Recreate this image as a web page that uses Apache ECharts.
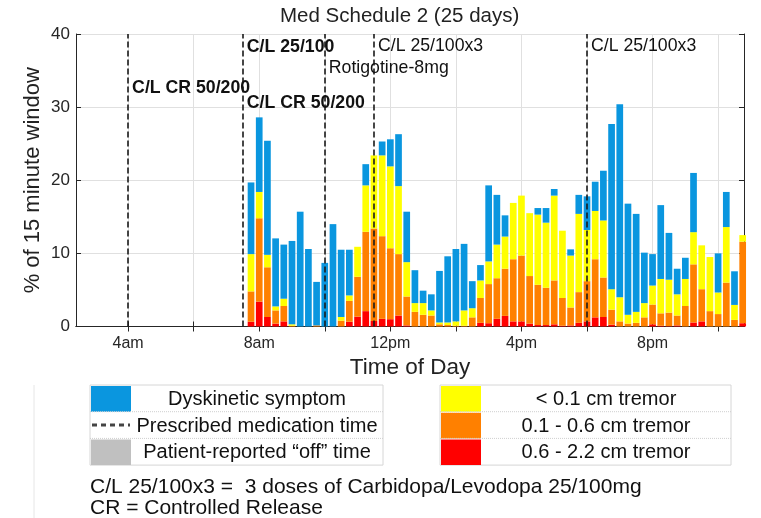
<!DOCTYPE html>
<html>
<head>
<meta charset="utf-8">
<title>Med Schedule 2 (25 days)</title>
<script src="https://cdn.jsdelivr.net/npm/echarts@6/dist/echarts.min.js"></script>
<style>
  html, body { margin: 0; padding: 0; background: #fff; }
  #chart { width: 761px; height: 518px; }
</style>
</head>
<body>
<div id="chart"></div>
<script>
// 15-minute windows (bar centre times)
const slots = [
  '7:45', '8:00', '8:15', '8:30', '8:45', '9:00', '9:15', '9:30', '9:45', '10:00',
  '10:15', '10:30', '10:45', '11:00', '11:15', '11:30', '11:45', '12:00', '12:15', '12:30',
  '12:45', '13:00', '13:15', '13:30', '13:45', '14:00', '14:15', '14:30', '14:45', '15:00',
  '15:15', '15:30', '15:45', '16:00', '16:15', '16:30', '16:45', '17:00', '17:15', '17:30',
  '17:45', '18:00', '18:15', '18:30', '18:45', '19:00', '19:15', '19:30', '19:45', '20:00',
  '20:15', '20:30', '20:45', '21:00', '21:15', '21:30', '21:45', '22:00', '22:15', '22:30',
  '22:45'
];

// % of window, stacked bottom to top
const tremorHigh = [ // 0.6 - 2.2 cm
  0.65, 3.4, 1.3, 0.4, 0.7, 0, 0, 0, 0, 0,
  0, 0, 0.65, 1.35, 2.1, 0.75, 1.05, 1.0, 1.5, 0.15,
  0, 0, 0, 0, 0, 0, 0, 0, 0.5, 0.45,
  1.05, 1.45, 0.7, 0.7, 0.4, 0.2, 0.2, 0.3, 0.1, 0.15,
  0.5, 0.7, 1.25, 1.3, 0.25, 0, 0, 0, 0, 0.3,
  0.1, 0.05, 0.15, 0, 0.55, 0.7, 0, 0, 0, 0,
  0.45
];
const tremorMid = [ // 0.1 - 0.6 cm
  4.15, 11.4, 6.8, 1.8, 2.1, 0.1, 0, 0, 0.15, 0,
  0, 0.8, 2.85, 5.45, 10.85, 12.65, 11.3, 9.7, 8.4, 3.95,
  2.0, 1.6, 1.5, 0.3, 0.2, 0.1, 0.1, 1.25, 3.4, 5.35,
  5.55, 6.45, 8.5, 9.0, 6.5, 5.5, 5.1, 6.0, 3.8, 2.45,
  4.2, 5.5, 7.95, 5.4, 2.05, 0.7, 0.4, 0.5, 1.25, 2.7,
  1.7, 1.85, 1.35, 2.8, 7.95, 4.4, 2.1, 1.7, 6.0, 0.9,
  11.15
];
const tremorLow = [ // < 0.1 cm
  5.1, 3.6, 1.7, 0.55, 1.0, 0.2, 0, 0, 0, 0,
  0, 0.5, 0.75, 4.1, 6.35, 10.0, 11.05, 11.2, 9.3, 4.7,
  1.2, 1.6, 0.7, 0.25, 0.35, 0.6, 2.1, 1.25, 2.4, 3.1,
  4.6, 4.4, 7.7, 8.2, 8.6, 9.6, 8.9, 11.6, 9.2, 7.1,
  10.7, 7.0, 6.6, 7.8, 2.8, 3.3, 1.2, 1.5, 1.95, 2.6,
  4.7, 4.5, 2.9, 3.7, 4.4, 6.0, 7.4, 2.95, 7.6, 2.05,
  0.9
];
const dyskinesia = [
  9.8, 10.2, 15.6, 9.3, 7.4, 11.4, 15.7, 10.6, 5.95, 8.7,
  14.0, 9.2, 6.25, 0, 2.9, 0, 1.9, 3.7, 7.1, 6.9,
  4.5, 1.7, 2.2, 7.05, 9.05, 9.9, 9.1, 3.7, 2.1, 10.4,
  6.8, 2.9, 0, 0, 0, 0.9, 2.0, 0.9, 0, 0.85,
  2.6, 4.6, 4.0, 6.8, 22.6, 26.4, 15.2, 13.4, 6.9, 4.3,
  10.1, 6.4, 3.5, 2.9, 8.1, 0, 0, 5.35, 4.8, 4.6,
  0
];

// prescribed medication times (hour of day) and their notes
const medTimes = [4, 7.5, 10, 11.5, 18];
const notes = [
  { at: 4, y: 32.6, text: 'C/L CR 50/200', bold: true },
  { at: 7.5, y: 38.2, text: 'C/L 25/100', bold: true },
  { at: 7.5, y: 30.5, text: 'C/L CR 50/200', bold: true },
  { at: 10, y: 35.3, text: 'Rotigotine-8mg', bold: false },
  { at: 11.5, y: 38.4, text: 'C/L 25/100x3', bold: false },
  { at: 18, y: 38.4, text: 'C/L 25/100x3', bold: false }
];

const xTicks = [4, 6, 8, 10, 12, 14, 16, 18, 20, 22];
const xLabels = { 4: '4am', 8: '8am', 12: '12pm', 16: '4pm', 20: '8pm' };

const FONT = '"Liberation Sans", Arial, Helvetica, sans-serif';
const BLUE = '#0a96df', YELLOW = '#ffff00', ORANGE = '#ff8000', RED = '#ff0000';

const toHour = t => {
  const [h, m] = t.split(':').map(Number);
  return h + m / 60;
};
const xs = slots.map(toHour);
// value first so the stack runs on the y dimension
const pairs = arr => xs.map((x, i) => [arr[i], x]);

const barSeries = (name, data, color) => ({
  name: name,
  type: 'bar',
  stack: 'win',
  barWidth: 6.7,
  encode: { x: 1, y: 0 },
  data: pairs(data),
  itemStyle: { color: color },
  z: 2
});

// 图例框
function legendBox(x0, x1, items) {
  const top = 385, rowH = 26.7, swW = 41;
  const els = [{
    type: 'rect',
    shape: { x: x0, y: top, width: x1 - x0, height: rowH * 3 },
    style: { fill: '#fff', stroke: '#d6d6d6', lineWidth: 1 }
  }];
  items.forEach((it, i) => {
    const y = top + i * rowH;
    if (i > 0) {
      els.push({
        type: 'line',
        shape: { x1: x0, y1: y, x2: x1, y2: y },
        style: { stroke: '#cfcfcf', lineWidth: 1, lineDash: [1, 1] }
      });
    }
    if (it.dash) {
      els.push({
        type: 'line',
        shape: { x1: x0 + 2, y1: y + rowH / 2, x2: x0 + swW - 1, y2: y + rowH / 2 },
        style: { stroke: '#444', lineWidth: 3, lineDash: [5, 4] }
      });
    } else {
      els.push({
        type: 'rect',
        shape: { x: x0 + 1, y: y + 1, width: swW - 1, height: rowH - 1 },
        style: { fill: it.color }
      });
    }
    els.push({
      type: 'text',
      style: {
        text: it.name, x: (x0 + swW + x1) / 2, y: y + rowH / 2 + 1,
        align: 'center', verticalAlign: 'middle',
        font: '20px ' + FONT, fill: '#111'
      }
    });
  });
  return els;
}

const chart = echarts.init(document.getElementById('chart'));

const X_MIN = 2.41, X_MAX = 22.79;
const boxAxis = {
  axisLine: { show: true, lineStyle: { color: '#262626', width: 1 } },
  axisTick: { show: true, inside: true, length: 5, lineStyle: { color: '#262626' } },
  splitLine: { show: false }
};

chart.setOption({
  animation: false,
  backgroundColor: '#fff',
  title: {
    text: 'Med Schedule 2 (25 days)',
    left: 280, top: 6, padding: 0,
    textStyle: { fontFamily: FONT, fontSize: 20.5, fontWeight: 'normal', color: '#222' }
  },
  grid: { left: 76, right: 17, top: 34, bottom: 191.5 },
  xAxis: [{
    type: 'value', min: X_MIN, max: X_MAX, position: 'bottom',
    name: 'Time of Day', nameLocation: 'middle', nameGap: 30,
    nameTextStyle: { fontFamily: FONT, fontSize: 22.5, color: '#222' },
    axisLine: { show: true, lineStyle: { color: '#262626', width: 1 } },
    axisTick: { show: true, inside: true, length: 5, customValues: xTicks, lineStyle: { color: '#262626' } },
    axisLabel: {
      customValues: Object.keys(xLabels).map(Number),
      formatter: v => xLabels[v] || '',
      margin: 9, fontFamily: FONT, fontSize: 16, color: '#262626'
    },
    splitLine: { show: true, lineStyle: { color: '#e0e0e0', width: 1 } }
  }, Object.assign({
    type: 'value', min: X_MIN, max: X_MAX, position: 'top',
    axisLabel: { show: false }
  }, boxAxis, {
    axisTick: { show: true, inside: true, length: 5, customValues: xTicks, lineStyle: { color: '#262626' } }
  })],
  yAxis: [{
    type: 'value', min: 0, max: 40, interval: 10, position: 'left',
    name: '% of 15 minute window', nameLocation: 'middle', nameGap: 32,
    nameMoveOverlap: false,
    nameTextStyle: { fontFamily: FONT, fontSize: 22, color: '#222' },
    axisLine: { show: true, lineStyle: { color: '#262626', width: 1 } },
    axisTick: { show: true, inside: true, length: 5, lineStyle: { color: '#262626' } },
    axisLabel: { margin: 6, fontFamily: FONT, fontSize: 17, color: '#262626' },
    splitLine: { show: true, lineStyle: { color: '#e0e0e0', width: 1 } }
  }, Object.assign({
    type: 'value', min: 0, max: 40, interval: 10, position: 'right',
    axisLabel: { show: false }
  }, boxAxis)],
  series: [
    barSeries('0.6 - 2.2 cm tremor', tremorHigh, RED),
    barSeries('0.1 - 0.6 cm tremor', tremorMid, ORANGE),
    barSeries('< 0.1 cm tremor', tremorLow, YELLOW),
    barSeries('Dyskinetic symptom', dyskinesia, BLUE),
    {
      name: 'Prescribed medication time',
      type: 'scatter',
      symbolSize: 0,
      z: 5,
      itemStyle: { opacity: 1 },
      data: notes.map(n => ({
        value: [n.at, n.y],
        label: { formatter: n.text, fontWeight: n.bold ? 'bold' : 'normal' }
      })),
      label: {
        show: true, position: 'right', distance: 4,
        fontFamily: FONT, fontSize: 17.7, color: '#111'
      },
      markLine: {
        silent: true,
        symbol: ['none', 'none'],
        label: { show: false },
        lineStyle: { type: [6, 3], color: '#1a1a1a', width: 1.6, opacity: 1 },
        data: medTimes.map(t => ({ xAxis: t }))
      }
    }
  ],
  graphic: [].concat(
    legendBox(90, 383, [
      { name: 'Dyskinetic symptom', color: BLUE },
      { name: 'Prescribed medication time', dash: true },
      { name: 'Patient-reported \u201coff\u201d time', color: '#c0c0c0' }
    ]),
    legendBox(440, 731, [
      { name: '< 0.1 cm tremor', color: YELLOW },
      { name: '0.1 - 0.6 cm tremor', color: ORANGE },
      { name: '0.6 - 2.2 cm tremor', color: RED }
    ]),
    [
      { type: 'line', shape: { x1: 34, y1: 385, x2: 34, y2: 518 }, style: { stroke: '#e6e6e6', lineWidth: 1 } },
      {
        type: 'text',
        style: { text: 'C/L 25/100x3 =  3 doses of Carbidopa/Levodopa 25/100mg', x: 90, y: 487, verticalAlign: 'middle', font: '21px ' + FONT, fill: '#111' }
      },
      {
        type: 'text',
        style: { text: 'CR = Controlled Release', x: 90, y: 508, verticalAlign: 'middle', font: '21px ' + FONT, fill: '#111' }
      }
    ]
  )
});
</script>
</body>
</html>
